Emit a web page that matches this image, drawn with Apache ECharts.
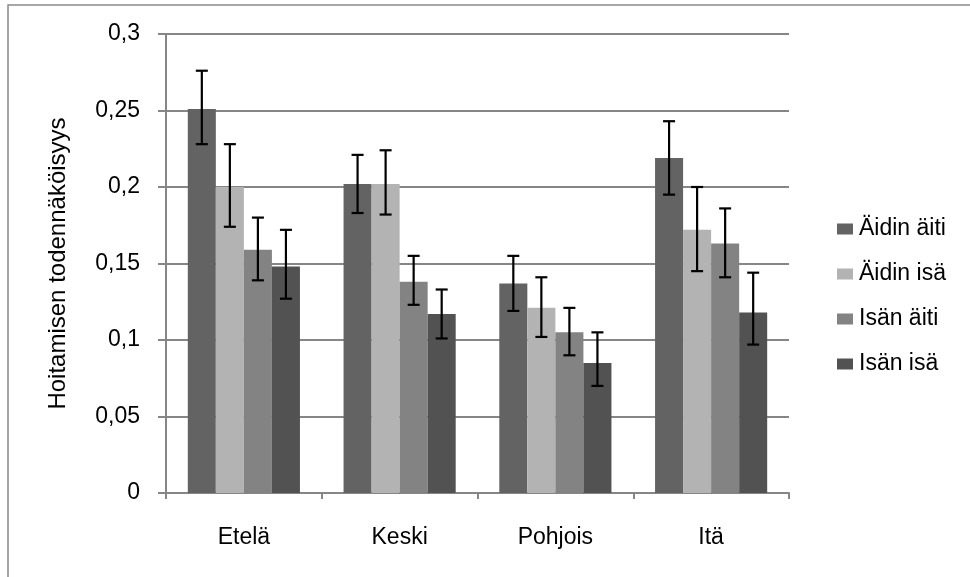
<!DOCTYPE html>
<html>
<head>
<meta charset="utf-8">
<script src="https://cdn.jsdelivr.net/npm/echarts@6/dist/echarts.min.js"></script>
<style>
html,body{margin:0;padding:0;background:#fff;}
#chart{width:970px;height:577px;}
</style>
</head>
<body>
<div id="chart"></div>
<script>
const categories = ['Etelä', 'Keski', 'Pohjois', 'Itä'];
const seriesNames = ['Äidin äiti', 'Äidin isä', 'Isän äiti', 'Isän isä'];
const aidinAiti = [0.251, 0.202, 0.137, 0.219];
const aidinIsa  = [0.200, 0.202, 0.121, 0.172];
const isanAiti  = [0.159, 0.138, 0.105, 0.163];
const isanIsa   = [0.148, 0.117, 0.085, 0.118];
const aidinAitiHi = [0.276, 0.221, 0.155, 0.243];
const aidinAitiLo = [0.228, 0.183, 0.119, 0.195];
const aidinIsaHi  = [0.228, 0.224, 0.141, 0.200];
const aidinIsaLo  = [0.174, 0.182, 0.102, 0.145];
const isanAitiHi  = [0.180, 0.155, 0.121, 0.186];
const isanAitiLo  = [0.139, 0.123, 0.090, 0.141];
const isanIsaHi   = [0.172, 0.133, 0.105, 0.144];
const isanIsaLo   = [0.127, 0.101, 0.070, 0.097];
const yTickLabels = ['0', '0,05', '0,1', '0,15', '0,2', '0,25', '0,3'];

const values = [aidinAiti, aidinIsa, isanAiti, isanIsa];
const his = [aidinAitiHi, aidinIsaHi, isanAitiHi, isanIsaHi];
const los = [aidinAitiLo, aidinIsaLo, isanAitiLo, isanIsaLo];
const colors = ['#636363', '#b3b3b3', '#838383', '#525252'];
const catGap = 0.28;
const FONT = 'Liberation Sans, Arial, sans-serif';

const chart = echarts.init(document.getElementById('chart'), null, {renderer: 'canvas'});

const barSeries = values.map((vals, i) => ({
  name: seriesNames[i],
  type: 'bar',
  data: vals,
  barGap: '0%',
  barCategoryGap: (catGap * 100) + '%',
  itemStyle: {color: colors[i]},
  z: 2
}));

const errData = [];
values.forEach((vals, s) => {
  vals.forEach((v, c) => errData.push([c, s, los[s][c], his[s][c]]));
});

const errSeries = {
  type: 'custom',
  name: 'err',
  data: errData,
  encode: {x: 0, y: [2, 3]},
  z: 5,
  silent: true,
  renderItem: function (params, api) {
    const c = api.value(0), s = api.value(1);
    const catW = api.size([1, 0])[0];
    const groupW = catW * (1 - catGap);
    const barW = groupW / 4;
    const base = api.coord([c, 0]);
    const x = base[0] - groupW / 2 + barW * (s + 0.5);
    const yLo = api.coord([c, api.value(2)])[1];
    const yHi = api.coord([c, api.value(3)])[1];
    const cap = 6;
    const st = {stroke: '#000', lineWidth: 2.2};
    return {
      type: 'group',
      children: [
        {type: 'line', shape: {x1: x, y1: yLo, x2: x, y2: yHi}, style: st},
        {type: 'line', shape: {x1: x - cap, y1: yHi, x2: x + cap, y2: yHi}, style: st},
        {type: 'line', shape: {x1: x - cap, y1: yLo, x2: x + cap, y2: yLo}, style: st}
      ]
    };
  }
};

const option = {
  backgroundColor: '#fff',
  animation: false,
  textStyle: {fontFamily: FONT},
  graphic: [{
    type: 'rect',
    shape: {x: 8, y: 5, width: 1100, height: 700},
    style: {fill: 'none', stroke: '#8a8a8a', lineWidth: 1.5},
    silent: true,
    z: 0
  }],
  grid: {left: 166, top: 34, right: 181, bottom: 84},
  legend: {
    orient: 'vertical',
    left: 832,
    top: 212,
    itemWidth: 16,
    itemHeight: 11,
    itemGap: 21,
    icon: 'rect',
    data: seriesNames,
    textStyle: {fontFamily: FONT, fontSize: 23, color: '#000', lineHeight: 24, padding: [0, 0, 0, 1]}
  },
  xAxis: {
    type: 'category',
    data: categories,
    axisLine: {lineStyle: {color: '#868686', width: 2}},
    axisTick: {show: true, length: 6, lineStyle: {color: '#868686', width: 2}},
    axisLabel: {fontFamily: FONT, fontSize: 23, color: '#000', margin: 33}
  },
  yAxis: {
    type: 'value',
    min: 0,
    max: 0.3,
    interval: 0.05,
    name: 'Hoitamisen todennäköisyys',
    nameLocation: 'middle',
    nameGap: 96,
    nameRotate: 90,
    nameTextStyle: {fontFamily: FONT, fontSize: 24, color: '#000'},
    axisLine: {show: true, lineStyle: {color: '#868686', width: 2}},
    axisTick: {show: true, length: 8, lineStyle: {color: '#868686', width: 2}},
    splitLine: {lineStyle: {color: '#868686', width: 2}},
    axisLabel: {
      fontFamily: FONT, fontSize: 23, color: '#000', margin: 26,
      formatter: function (v) { return yTickLabels[Math.round(v / 0.05)]; }
    }
  },
  series: barSeries.concat([errSeries])
};
chart.setOption(option);
</script>
</body>
</html>
